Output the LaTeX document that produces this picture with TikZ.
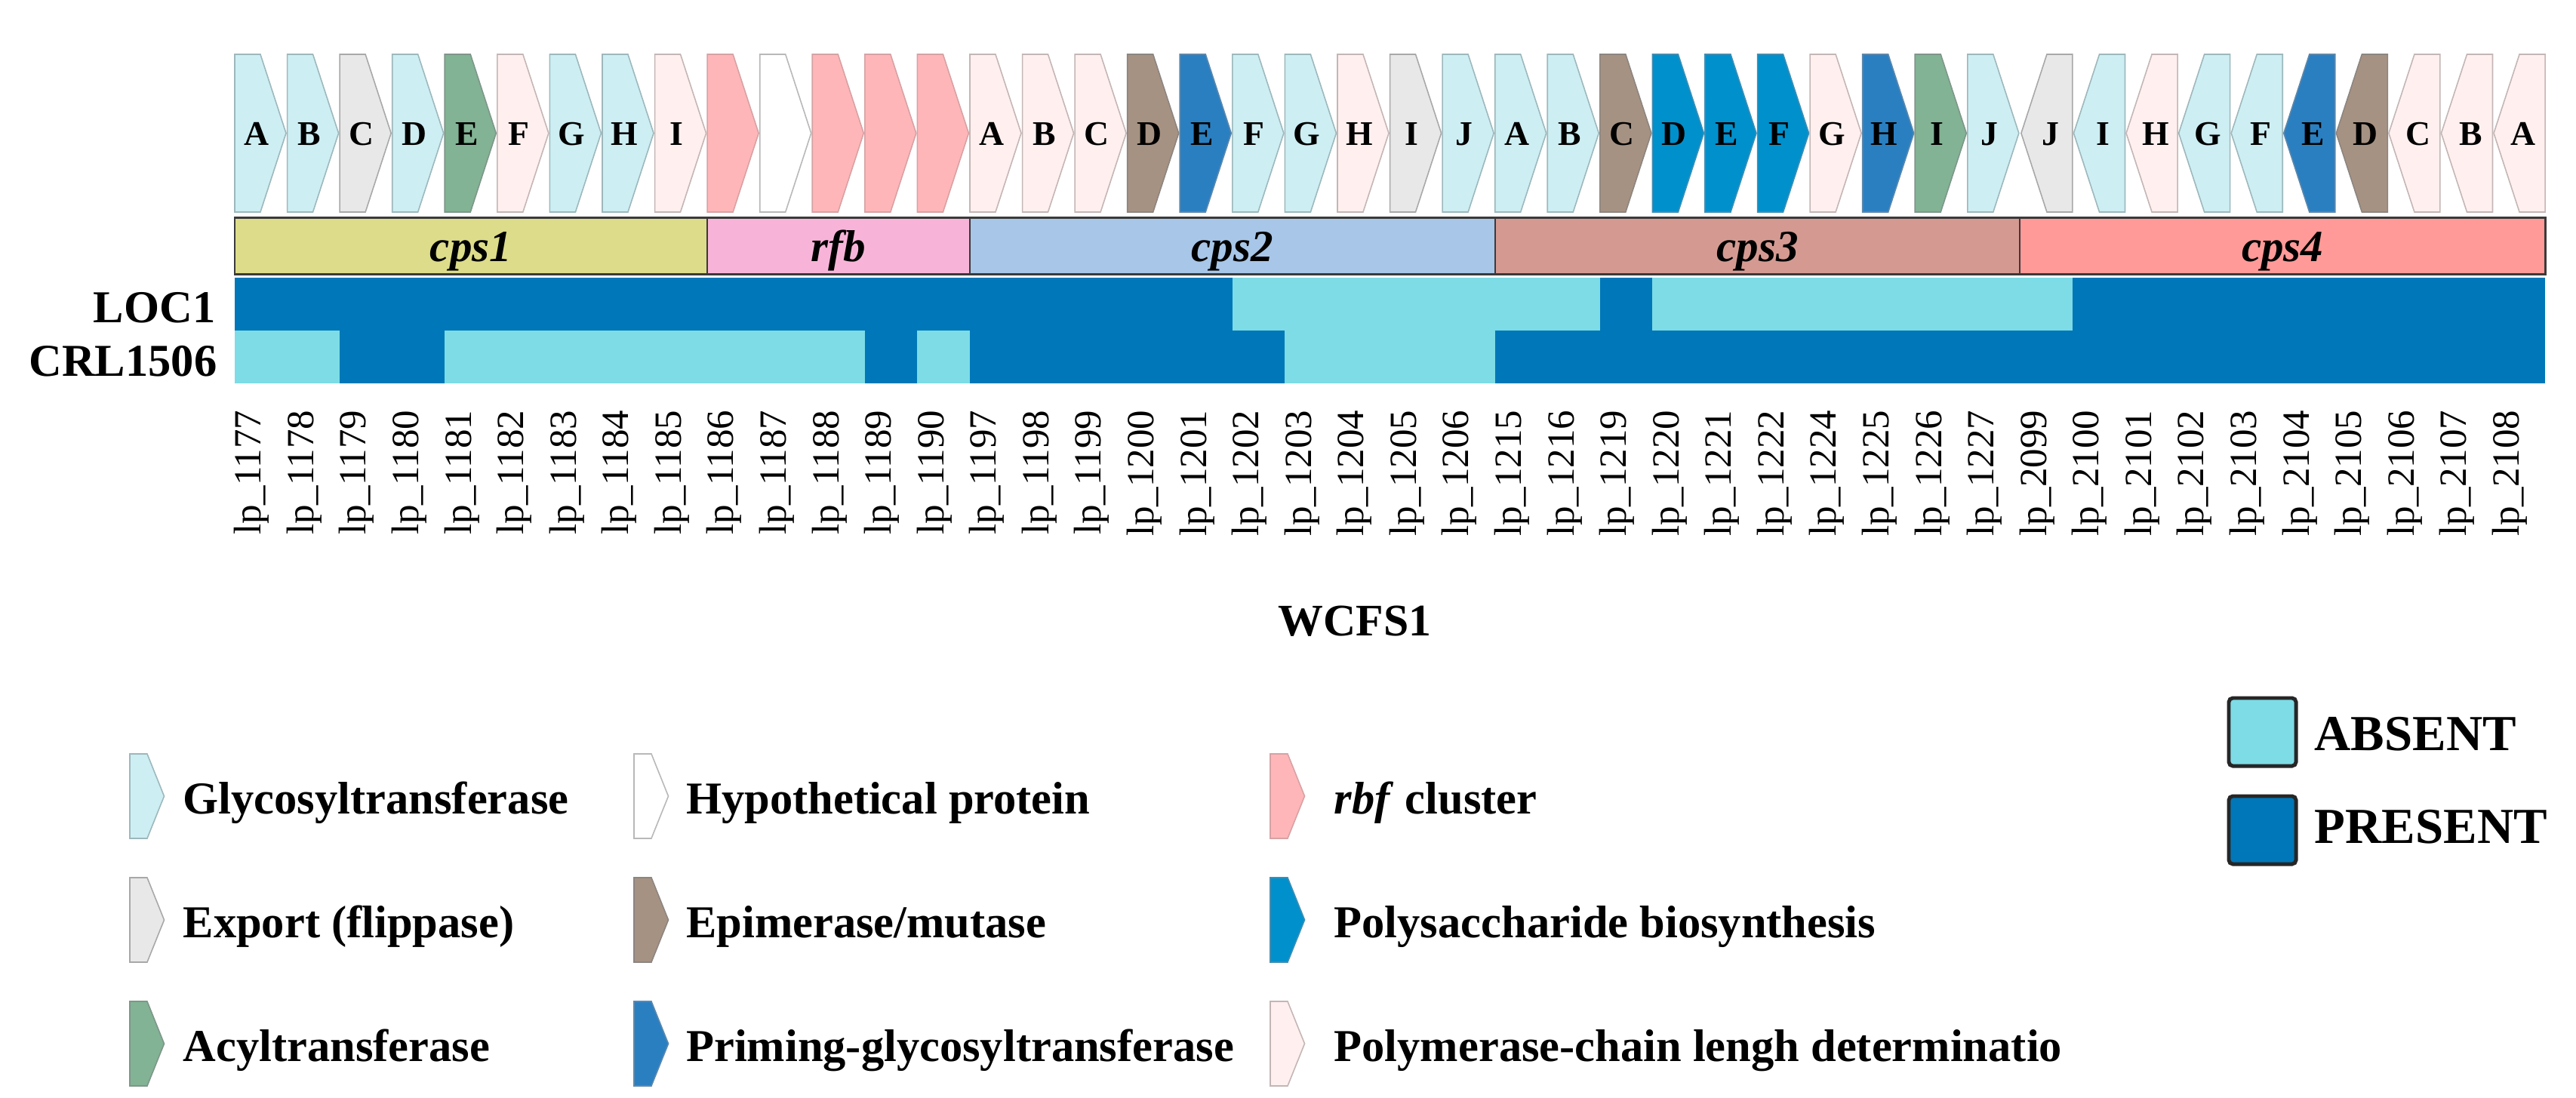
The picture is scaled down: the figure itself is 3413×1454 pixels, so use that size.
\documentclass[tikz,border=0pt]{standalone}
\usepackage{fontspec}
\setmainfont{Liberation Serif}
\definecolor{cGly}{HTML}{CDEEF3}\definecolor{cGlyD}{HTML}{9DB8BC}
\definecolor{cExp}{HTML}{E8E8E8}\definecolor{cExpD}{HTML}{A8A8A8}
\definecolor{cAcy}{HTML}{82B394}\definecolor{cAcyD}{HTML}{7E968A}
\definecolor{cHyp}{HTML}{FFFFFF}\definecolor{cHypD}{HTML}{B8B8B8}
\definecolor{cEpi}{HTML}{A69283}\definecolor{cEpiD}{HTML}{8C8580}
\definecolor{cPri}{HTML}{2A7FC1}\definecolor{cPriD}{HTML}{5C88AC}
\definecolor{cRbf}{HTML}{FFB6B9}\definecolor{cRbfD}{HTML}{D6A2A4}
\definecolor{cPol}{HTML}{0090CC}\definecolor{cPolD}{HTML}{3E8EB4}
\definecolor{cPlm}{HTML}{FFF0EF}\definecolor{cPlmD}{HTML}{C4B6B6}
\definecolor{cS1}{HTML}{DCDC8A}\definecolor{cS2}{HTML}{F8B4D8}
\definecolor{cS3}{HTML}{A7C6E8}\definecolor{cS4}{HTML}{D49A92}
\definecolor{cS5}{HTML}{FF9A98}
\definecolor{cPre}{HTML}{0077B8}\definecolor{cAbs}{HTML}{7DDCE6}
\definecolor{cLine}{HTML}{3A3A3A}
\tikzset{
  gene/.style={line width=0.45pt, line join=miter},
  tGly/.style={gene, fill=cGly, draw=cGlyD},
  tExp/.style={gene, fill=cExp, draw=cExpD},
  tAcy/.style={gene, fill=cAcy, draw=cAcyD},
  tHyp/.style={gene, fill=cHyp, draw=cHypD},
  tEpi/.style={gene, fill=cEpi, draw=cEpiD},
  tPri/.style={gene, fill=cPri, draw=cPriD},
  tRbf/.style={gene, fill=cRbf, draw=cRbfD},
  tPol/.style={gene, fill=cPol, draw=cPolD},
  tPlm/.style={gene, fill=cPlm, draw=cPlmD},
  letter/.style={font=\fontsize{13}{15}\selectfont\bfseries, inner sep=0pt, anchor=base},
  lbl/.style={font=\fontsize{14.5}{16}\selectfont, inner sep=0pt, rotate=90, anchor=base east},
  secbox/.style={draw=cLine, line width=0.6pt},
  seclbl/.style={font=\fontsize{16.8}{18}\selectfont\bfseries\itshape, inner sep=0pt, anchor=base},
  rowlbl/.style={font=\fontsize{17.2}{19}\selectfont\bfseries, inner sep=0pt, anchor=base east},
  legtxt/.style={font=\fontsize{17.2}{19}\selectfont\bfseries, inner sep=0pt, anchor=base west},
  bigtxt/.style={font=\fontsize{19}{21}\selectfont\bfseries, inner sep=0pt, anchor=base west},
  legbox/.style={draw=black!85, line width=1.4pt, rounded corners=1.5pt, minimum width=0.89cm, minimum height=0.9cm, inner sep=0pt}
}
\newcommand\legicon[3]{\path[#3] (#1,#2) -- ++(23,0) -- ++(22.5,56) -- ++(-22.5,56) -- ++(-23,0) -- cycle;}
\begin{document}
\begin{tikzpicture}[x=0.01cm,y=-0.01cm]
\useasboundingbox (0,0) rectangle (3413,1454);
% forward genes
\foreach \c/\t/\l in {0/tGly/A,1/tGly/B,2/tExp/C,3/tGly/D,4/tAcy/E,5/tPlm/F,6/tGly/G,7/tGly/H,8/tPlm/I,9/tRbf/{},10/tHyp/{},11/tRbf/{},12/tRbf/{},13/tRbf/{},14/tPlm/A,15/tPlm/B,16/tPlm/C,17/tEpi/D,18/tPri/E,19/tGly/F,20/tGly/G,21/tPlm/H,22/tExp/I,23/tGly/J,24/tGly/A,25/tGly/B,26/tEpi/C,27/tPol/D,28/tPol/E,29/tPol/F,30/tPlm/G,31/tPri/H,32/tAcy/I,33/tGly/J}{
  \pgfmathsetmacro\L{311+\c*69.57}
  \path[\t] (\L,72) -- ++(34,0) -- ++(34,104.5) -- ++(-34,104.5) -- ++(-34,0) -- cycle;
  \node[letter] (g\c) at (\L+29,192) {\l};
}
% reverse genes
\foreach \c/\t/\l in {34/tExp/J,35/tGly/I,36/tPlm/H,37/tGly/G,38/tGly/F,39/tPri/E,40/tEpi/D,41/tPlm/C,42/tPlm/B,43/tPlm/A}{
  \pgfmathsetmacro\L{311+\c*69.57}
  \path[\t] (\L+69.5,72) -- ++(-34,0) -- ++(-34,104.5) -- ++(34,104.5) -- ++(34,0) -- cycle;
  \node[letter] (g\c) at (\L+40.5,192) {\l};
}
% cluster boxes
\foreach \a/\b/\f/\n/\nm in {0/9/cS1/cps1/s1,9/14/cS2/rfb/s2,14/24/cS3/cps2/s3,24/34/cS4/cps3/s4,34/44/cS5/cps4/s5}{
  \pgfmathsetmacro\xa{311+\a*69.57}
  \pgfmathsetmacro\xb{311+\b*69.57}
  \path[secbox, fill=\f] (\xa,288) rectangle (\xb,363);
  \node[seclbl] (\nm) at ({(\xa+\xb)/2},346) {\n};
}
\draw[draw=cLine, line width=0.85pt] (311,288) rectangle (3372.08,363);
% heat map
\fill[cPre] (311,368) rectangle (3372.08,508);
\foreach \a/\b/\ya/\yb in {19/26/368/438,27/35/368/438,0/2/438/508,4/12/438/508,13/14/438/508,20/24/438/508}{
  \fill[cAbs] (311+\a*69.57,\ya) rectangle (311+\b*69.57,\yb);
}
\node[rowlbl] (loc1) at (286,427) {LOC1};
\node[rowlbl] (crl) at (288,498) {CRL1506};
% locus labels
\foreach \n [count=\i from 0] in {1177,1178,1179,1180,1181,1182,1183,1184,1185,1186,1187,1188,1189,1190,1197,1198,1199,1200,1201,1202,1203,1204,1205,1206,1215,1216,1219,1220,1221,1222,1224,1225,1226,1227,2099,2100,2101,2102,2103,2104,2105,2106,2107,2108}{
  \node[lbl] (lp\i) at (311+\i*69.57+34.8,543) {lp\_\n};
}
\node[font=\fontsize{17}{19}\selectfont\bfseries, inner sep=0pt, anchor=base] (wcfs) at (1795,842) {WCFS1};
% legend
\legicon{172}{999}{tGly}
\legicon{172}{1163}{tExp}
\legicon{172}{1327}{tAcy}
\legicon{840}{999}{tHyp}
\legicon{840}{1163}{tEpi}
\legicon{840}{1327}{tPri}
\legicon{1683}{999}{tRbf}
\legicon{1683}{1163}{tPol}
\legicon{1683}{1327}{tPlm}
\node[legtxt] (l1) at (242,1078) {Glycosyltransferase};
\node[legtxt] (l2) at (242,1242) {Export (flippase)};
\node[legtxt] (l3) at (242,1406) {Acyltransferase};
\node[legtxt] (l4) at (908.5,1078) {Hypothetical protein};
\node[legtxt] (l5) at (908.5,1242) {Epimerase/mutase};
\node[legtxt] (l6) at (908.5,1406) {Priming-glycosyltransferase};
\node[legtxt] (l7) at (1767,1078) {\textit{rbf} cluster};
\node[legtxt] (l8) at (1767,1242) {Polysaccharide biosynthesis};
\node[legtxt] (l9) at (1767,1406) {Polymerase-chain lengh determinatio};
\node[legbox, fill=cAbs] (absbox) at (2997.5,970) {};
\node[legbox, fill=cPre] (prebox) at (2997.5,1100) {};
\node[bigtxt] (abst) at (3066,994) {ABSENT};
\node[bigtxt] (pret) at (3066,1117) {PRESENT};
\end{tikzpicture}
\end{document}
